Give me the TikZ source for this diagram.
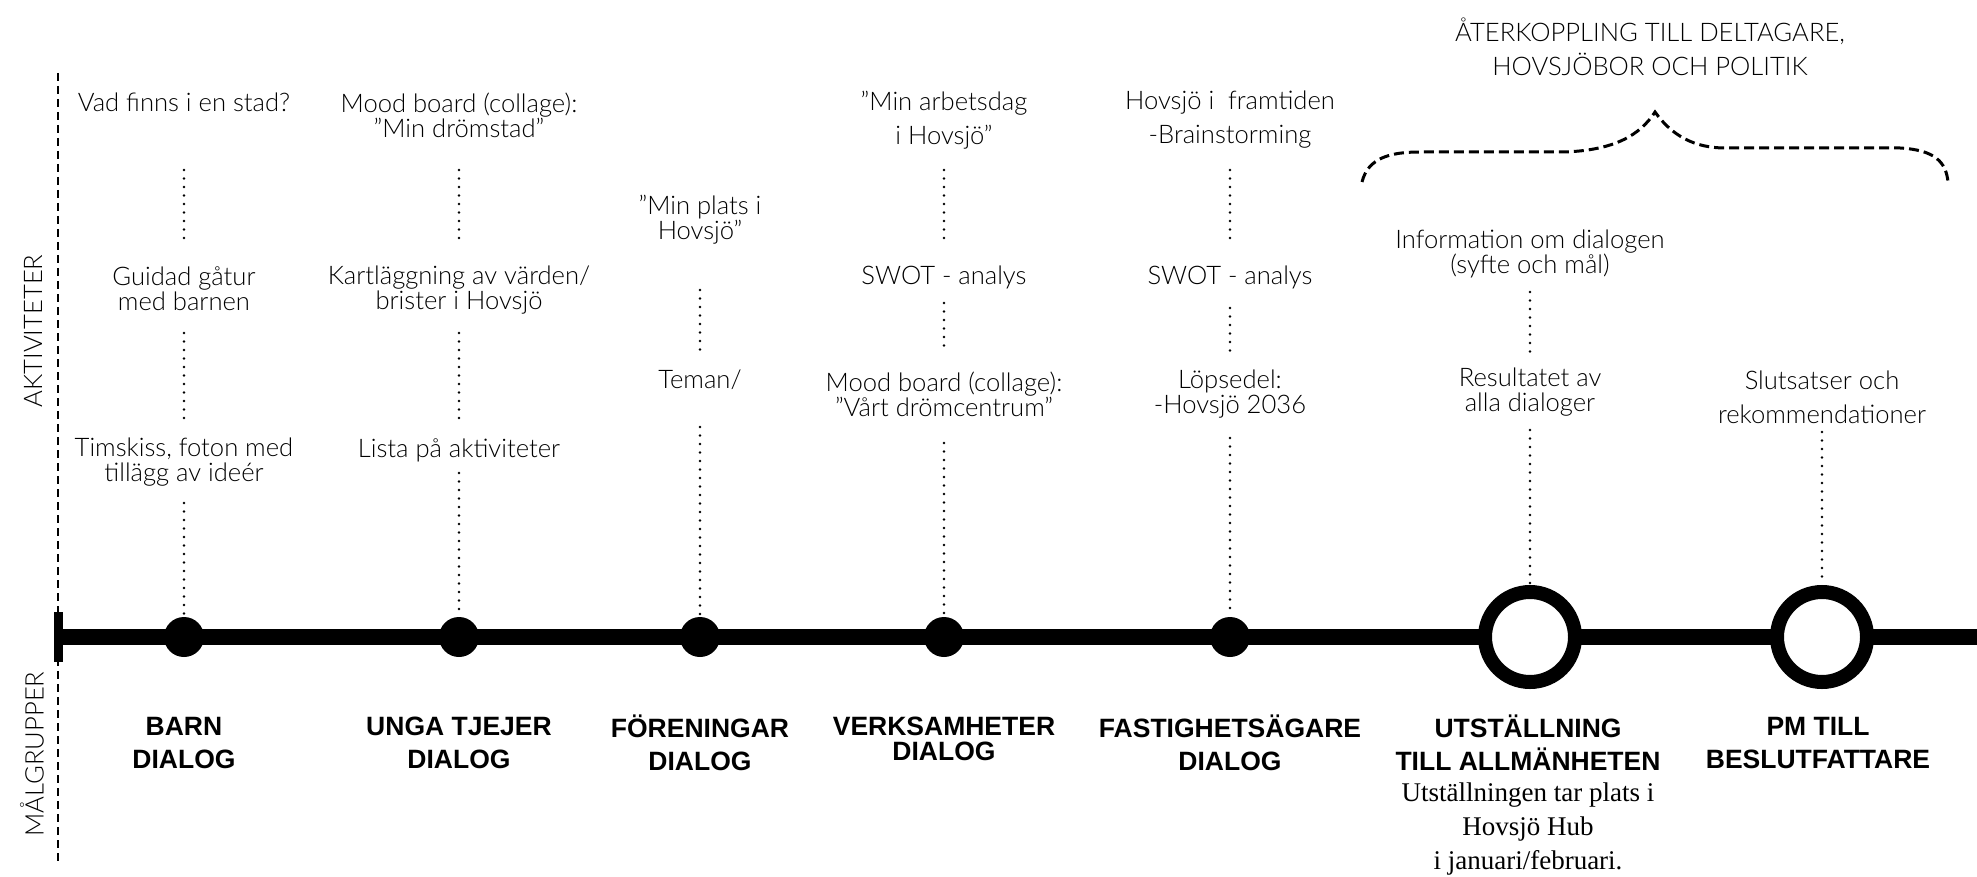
\documentclass[tikz,border=0pt]{standalone}
\usepackage{fontspec}
\setmainfont{Liberation Sans}
\newfontfamily\lightfont{Lato}[UprightFont={* Light}]
\newfontfamily\seriffont{Liberation Serif}

\begin{document}
\begin{tikzpicture}[x=1pt,y=1pt]
\tikzstyle{every node}+=[inner sep=0pt]
\tikzstyle{akt}=[align=center, font=\lightfont\fontsize{25.6}{25}\selectfont]
\tikzstyle{aktwide}=[align=center, font=\lightfont\fontsize{25.6}{34}\selectfont]
\tikzstyle{grupp}=[align=center, font=\bfseries\fontsize{26.5}{33}\selectfont]
\tikzstyle{prick}=[circle, fill=black, minimum size=40pt]
\tikzstyle{bigring}=[circle, draw=black, line width=14pt, fill=white, minimum size=90pt]
\tikzstyle{dotline}=[line width=2.6pt, line cap=round, dash pattern=on 0pt off 8.5pt]
\tikzstyle{axis}=[line width=2.6pt, dash pattern=on 8pt off 5pt]
\tikzstyle{brace}=[line width=3pt, dash pattern=on 10pt off 5pt]
\useasboundingbox (0,0) rectangle (1977,-877);
% side axis
\coordinate (axtop) at (58,-73);
\coordinate (axbot) at (58,-862);
\draw [axis] (axtop) -- (axbot);
\node [akt, rotate=90] (aktiv) at (33,-331) {AKTIVITETER};
\node [akt, rotate=90] (malgr) at (32,-754) {MÅLGRUPPER};
% timeline
\coordinate (t0) at (58,-637);
\coordinate (t1) at (1977,-637);
\draw [line width=16pt] (t0) -- (t1);
\coordinate (k0) at (58.5,-612);
\coordinate (k1) at (58.5,-662);
\draw [line width=9pt] (k0) -- (k1);
\node [prick] (d1) at (184,-637) {};
\node [prick] (d2) at (459,-637) {};
\node [prick] (d3) at (700,-637) {};
\node [prick] (d4) at (944,-637) {};
\node [prick] (d5) at (1230,-637) {};
\node [bigring] (r1) at (1530,-637) {};
\node [bigring] (r2) at (1822,-637) {};
% barn
\node [akt] (a1) at (184,-102) {Vad finns i en stad?};
\node [akt] (a2) at (184,-289) {Guidad gåtur\\med barnen};
\node [akt] (a3) at (184,-462) {Timskiss, foton med\\tillägg av ideér};
\draw [dotline, shorten <=68pt, shorten >=46pt] (a1.center) -- (a2.center);
\draw [dotline, shorten <=44pt, shorten >=40pt] (a2.center) -- (a3.center);
\draw [dotline, shorten <=41pt, shorten >=22pt] (a3.center) -- (d1.center);
% unga tjejer
\node [akt] (b1) at (459,-115) {Mood board (collage):\\”Min drömstad”};
\node [akt] (b2) at (459,-290) {Kartläggning av värden/\\brister i Hovsjö};
\node [akt] (b3) at (459,-450) {Lista på aktiviteter};
\draw [dotline, shorten <=55pt, shorten >=47pt] (b1.center) -- (b2.center);
\draw [dotline, shorten <=43pt, shorten >=28pt] (b2.center) -- (b3.center);
\draw [dotline, shorten <=23pt, shorten >=22pt] (b3.center) -- (d2.center);
% foreningar
\node [akt] (c1) at (700,-220) {”Min plats i\\Hovsjö”};
\node [akt] (c2) at (700,-380) {Teman/};
\draw [dotline, shorten <=70pt, shorten >=27pt] (c1.center) -- (c2.center);
\draw [dotline, shorten <=47pt, shorten >=22pt] (c2.center) -- (d3.center);
% verksamheter
\node [aktwide] (e1) at (944,-120) {”Min arbetsdag\\i Hovsjö”};
\node [akt] (e2) at (944,-277) {SWOT - analys};
\node [akt] (e3) at (944,-394) {Mood board (collage):\\”Vårt drömcentrum”};
\draw [dotline, shorten <=50pt, shorten >=34pt] (e1.center) -- (e2.center);
\draw [dotline, shorten <=26pt, shorten >=41pt] (e2.center) -- (e3.center);
\draw [dotline, shorten <=49pt, shorten >=22pt] (e3.center) -- (d4.center);
% fastighetsagare
\node [aktwide] (f1) at (1230,-120) {Hovsjö i~ framtiden\\-Brainstorming};
\node [akt] (f2) at (1230,-277) {SWOT - analys};
\node [akt] (f3) at (1230,-394) {Löpsedel:\\-Hovsjö 2036};
\draw [dotline, shorten <=50pt, shorten >=34pt] (f1.center) -- (f2.center);
\draw [dotline, shorten <=31pt, shorten >=41pt] (f2.center) -- (f3.center);
\draw [dotline, shorten <=44pt, shorten >=22pt] (f3.center) -- (d5.center);
% utstallning
\node [akt] (g1) at (1530,-254) {Information om dialogen\\(syfte och mål)};
\node [akt] (g2) at (1530,-392) {Resultatet av\\alla dialoger};
\draw [dotline, shorten <=38pt, shorten >=40pt] (g1.center) -- (g2.center);
\draw [dotline, shorten <=38pt, shorten >=54pt] (g2.center) -- (r1.center);
% pm
\node [aktwide] (h1) at (1822,-397) {Slutsatser och\\rekommendationer};
\draw [dotline, shorten <=35pt, shorten >=54pt] (h1.center) -- (r2.center);
% aterkoppling
\node [aktwide] (titel) at (1650,-47) {ÅTERKOPPLING TILL DELTAGARE,\\HOVSJÖBOR OCH POLITIK};
\draw [brace] (1362,-182) .. controls (1368,-158) and (1390,-152) .. (1420,-152)
  -- (1565,-152) .. controls (1615,-150) and (1640,-135) .. (1655,-112)
  .. controls (1672,-136) and (1695,-148) .. (1725,-148)
  -- (1900,-148) .. controls (1935,-150) and (1946,-162) .. (1948,-182);
% malgrupper
\node [grupp] (m1) at (184,-743) {BARN\\DIALOG};
\node [grupp] (m2) at (459,-743) {UNGA TJEJER\\DIALOG};
\node [grupp] (m3) at (700,-743) {FÖRENINGAR\\DIALOG};
\node [grupp, font=\bfseries\fontsize{26.5}{25}\selectfont] (m4) at (944,-739) {VERKSAMHETER\\DIALOG};
\node [grupp] (m5) at (1230,-743) {FASTIGHETSÄGARE\\DIALOG};
\node [grupp] (m6) at (1528,-743) {UTSTÄLLNING\\TILL ALLMÄNHETEN};
\node [grupp] (m7) at (1818,-743) {PM TILL\\BESLUTFATTARE};
\node [align=center, font=\seriffont\fontsize{27}{34}\selectfont] (utinfo) at (1528,-829) {Utställningen tar plats i\\Hovsjö Hub\\i januari/februari.};
\end{tikzpicture}
\end{document}
